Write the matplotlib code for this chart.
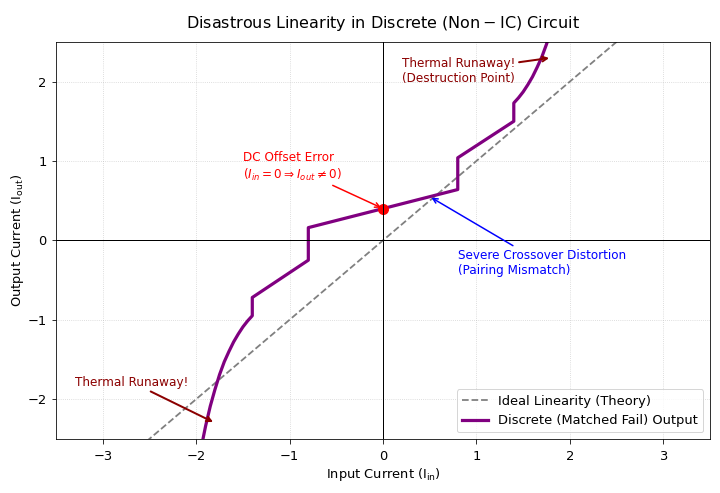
import numpy as np
import matplotlib.pyplot as plt

# Ideal transfer line
ideal_x = [-3.0, 3.0]
ideal_y = [-3.0, 3.0]

# Discrete (matched fail) output
out_x = [-1.95, -1.90, -1.85, -1.80, -1.75, -1.70, -1.65, -1.60, -1.55, -1.50,
         -1.45, -1.40, -1.40, -0.80, -0.80, 0.00, 0.80, 0.80, 1.40, 1.40,
         1.45, 1.50, 1.55, 1.60, 1.65, 1.70, 1.75, 1.80]
out_y = [-2.63, -2.34, -2.09, -1.88, -1.69, -1.53, -1.40, -1.28, -1.18, -1.09,
         -1.015, -0.95, -0.72, -0.25, 0.16, 0.40, 0.64, 1.04, 1.50, 1.73,
         1.795, 1.87, 1.96, 2.06, 2.18, 2.31, 2.47, 2.66]

offset_x, offset_y = 0.0, 0.4
x_ticks = [-3, -2, -1, 0, 1, 2, 3]
y_ticks = [-2, -1, 0, 1, 2]

fig, ax = plt.subplots(figsize=(10, 493 / 72), dpi=72)
fig.subplots_adjust(left=0.078, right=0.986, bottom=0.11, top=0.915)

ax.plot(ideal_x, ideal_y, '--', color='gray', lw=1.8, label='Ideal Linearity (Theory)')
ax.plot(out_x, out_y, color='purple', lw=3.2, label='Discrete (Matched Fail) Output')
ax.plot(offset_x, offset_y, 'o', color='red', markersize=10)

ax.axhline(0, color='black', lw=1)
ax.axvline(0, color='black', lw=1)

# Annotations
ax.annotate('DC Offset Error\n($I_{in} = 0 \\Rightarrow I_{out} \\neq 0$)',
            xy=(offset_x, offset_y), xytext=(-1.5, 0.78), color='red', fontsize=12,
            arrowprops=dict(arrowstyle='->', color='red', lw=1.5))
ax.annotate('Severe Crossover Distortion\n(Pairing Mismatch)',
            xy=(0.5, 0.55), xytext=(0.8, -0.42), color='blue', fontsize=12,
            arrowprops=dict(arrowstyle='->', color='blue', lw=1.5))
ax.annotate('Thermal Runaway!\n(Destruction Point)',
            xy=(1.8, 2.3), xytext=(0.2, 2.0), color='darkred', fontsize=12,
            arrowprops=dict(arrowstyle='->', color='darkred', lw=2))
ax.annotate('Thermal Runaway!',
            xy=(-1.8, -2.3), xytext=(-3.3, -1.83), color='darkred', fontsize=12,
            arrowprops=dict(arrowstyle='->', color='darkred', lw=2))

# Formatting
ax.set_xlim(-3.5, 3.5)
ax.set_ylim(-2.5, 2.5)
ax.set_xticks(x_ticks)
ax.set_yticks(y_ticks)
ax.tick_params(axis='both', labelsize=13, length=4.5)
ax.tick_params(axis='x', pad=7)
ax.tick_params(axis='y', pad=5)
ax.set_title('Disastrous Linearity in Discrete $\\mathrm{(Non-IC)}$ Circuit', fontsize=16, pad=14)
ax.set_xlabel('Input Current ($\\mathrm{I_{in}}$)', fontsize=13, labelpad=3)
ax.set_ylabel('Output Current ($\\mathrm{I_{out}}$)', fontsize=13, labelpad=1)
ax.grid(True, linestyle=':', alpha=0.6)
ax.legend(loc='lower right', fontsize=13)

fig.savefig('out.png', dpi=72)
